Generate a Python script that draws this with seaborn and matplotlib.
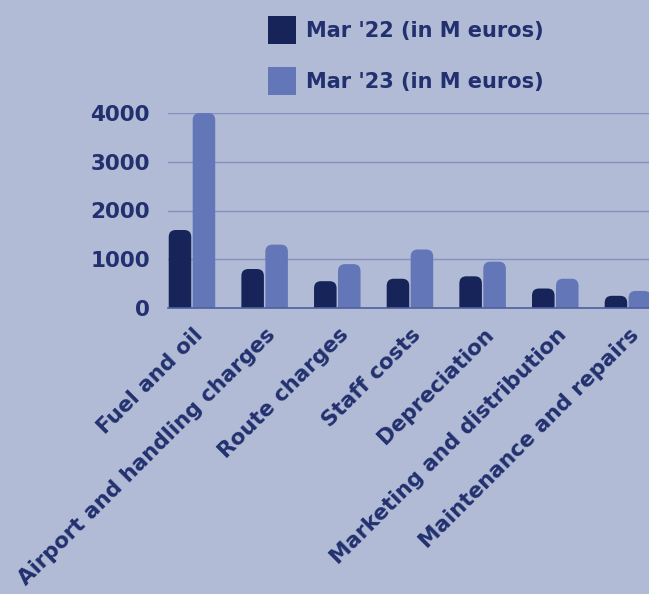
import matplotlib
matplotlib.use("Agg")
import matplotlib.pyplot as plt
import matplotlib.transforms as mtransforms
import seaborn as sns
import pandas as pd
from matplotlib.patches import FancyBboxPatch, Patch

categories = ["Fuel and oil", "Airport and handling charges", "Route charges",
              "Staff costs", "Depreciation", "Marketing and distribution",
              "Maintenance and repairs"]
mar22 = [1600, 800, 550, 600, 650, 400, 250]
mar23 = [4000, 1300, 900, 1200, 950, 600, 350]
series_names = ["Mar '22 (in M euros)", "Mar '23 (in M euros)"]
yticks = [0, 1000, 2000, 3000, 4000]

BG = "#b1bbd5"
DARK = "#16245a"
LIGHT = "#6276b8"
TXT = "#22306f"
GRID = "#8590bf"

df = pd.DataFrame({
    "category": categories * 2,
    "value": mar22 + mar23,
    "series": [series_names[0]] * len(categories) + [series_names[1]] * len(categories),
})

sns.set_style("white")
plt.rcParams["font.family"] = ["DejaVu Sans"]
plt.rcParams["font.weight"] = "bold"

W, H = 649, 594
fig = plt.figure(figsize=(W / 100, H / 100), dpi=100, facecolor=BG)
ax = fig.add_axes([168 / W, (H - 308) / H, (649 - 168) / W, (308 - 113) / H])
ax.set_facecolor(BG)

sns.barplot(data=df, x="category", y="value", hue="series",
            palette=[DARK, LIGHT], width=0.66, gap=0.06, ax=ax,
            legend=False, saturation=1)

ax.set_xlim(-0.33, 6.29)
ax.set_ylim(0, 4000)
ax.set_yticks(yticks)
ax.set_axisbelow(True)
ax.yaxis.grid(True, color=GRID, linewidth=1)
for s in ["top", "right", "left"]:
    ax.spines[s].set_visible(False)
ax.spines["bottom"].set_color("#4f5f9f")
ax.spines["bottom"].set_linewidth(1.2)
ax.tick_params(axis="both", length=0, colors=TXT, labelsize=15.5)
ax.tick_params(axis="y", pad=13)
ax.tick_params(axis="x", pad=12, labelsize=15.5)
for lab in ax.get_yticklabels():
    lab.set_fontweight("bold")
offset = mtransforms.ScaledTranslation(1 / 100, 0, fig.dpi_scale_trans)
for lab in ax.get_xticklabels():
    lab.set_rotation(45)
    lab.set_ha("right")
    lab.set_rotation_mode("anchor")
    lab.set_fontweight("bold")
    lab.set_transform(lab.get_transform() + offset)
ax.set_xlabel("")
ax.set_ylabel("")

# rounded tops
xpx = ax.get_position().width * W / (ax.get_xlim()[1] - ax.get_xlim()[0])
ypx = ax.get_position().height * H / (ax.get_ylim()[1] - ax.get_ylim()[0])
aspect = xpx / ypx
r = 7 / xpx
for p in list(ax.patches):
    x0, y0 = p.get_x(), p.get_y()
    w, h = p.get_width(), p.get_height()
    fc = p.get_facecolor()
    p.remove()
    extra = r * aspect
    fb = FancyBboxPatch((x0, y0 - extra), w, h + extra,
                        boxstyle=f"round,pad=0,rounding_size={r}",
                        mutation_aspect=aspect, facecolor=fc, edgecolor="none",
                        clip_on=True, zorder=2)
    ax.add_patch(fb)

handles = [Patch(facecolor=DARK, edgecolor="none"), Patch(facecolor=LIGHT, edgecolor="none")]
fig.legend(handles, series_names, loc="upper left", bbox_to_anchor=(268 / W, 1 - 16 / H),
           frameon=False, labelcolor=TXT, handlelength=1.35,
           handleheight=1.7, handletextpad=0.45, labelspacing=1.1,
           borderpad=0, borderaxespad=0,
           prop={"weight": "bold", "size": 15})

fig.savefig("out.png", dpi=100, facecolor=BG)
